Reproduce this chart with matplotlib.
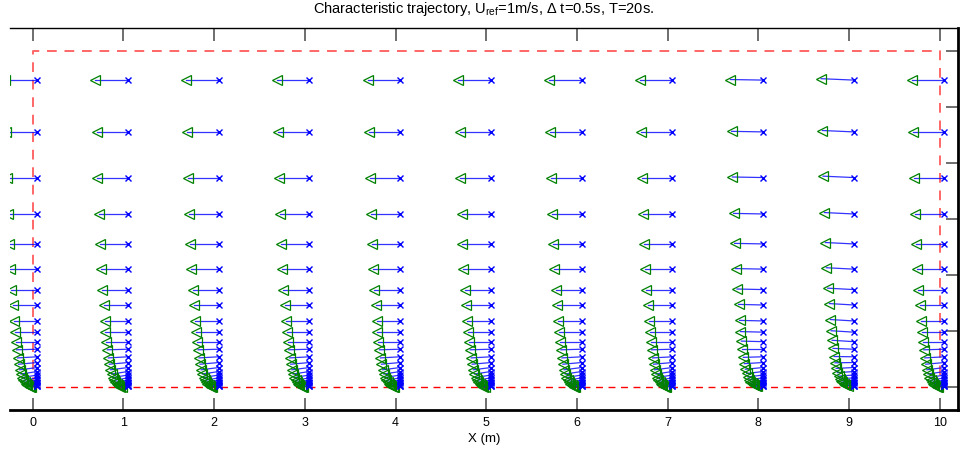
import matplotlib
matplotlib.use("Agg")
import matplotlib.pyplot as plt
import numpy as np

plt.rcParams['font.family'] = ['Liberation Sans', 'DejaVu Sans']
plt.rcParams['mathtext.fontset'] = 'custom'
plt.rcParams['mathtext.rm'] = 'Liberation Sans'
plt.rcParams['mathtext.it'] = 'Liberation Sans:italic'

# ---- data ----
x_start = [0.05, 1.05, 2.05, 3.05, 4.05, 5.05, 6.05, 7.05, 8.05, 9.05, 10.05]
z_rows = [1.096, 0.911, 0.748, 0.618, 0.511, 0.421, 0.348, 0.293, 0.236, 0.196,
          0.162, 0.135, 0.108, 0.0875, 0.0696, 0.0554, 0.0429, 0.0329, 0.025,
          0.0186, 0.0132, 0.0089, 0.0054, 0.0029]
dx_rows = [-0.359, -0.345, -0.337, -0.323, -0.312, -0.301, -0.286, -0.268, -0.257,
           -0.249, -0.238, -0.227, -0.216, -0.205, -0.193, -0.180, -0.166, -0.152,
           -0.138, -0.124, -0.110, -0.096, -0.082, -0.068]
dz_rows = [0.0, 0.0, 0.0, 0.0, 0.0, 0.0, 0.0, 0.0, 0.0, 0.0, 0.0, -0.002, -0.004,
           -0.006, -0.008, -0.009, -0.009, -0.009, -0.008, -0.007, -0.006, -0.005,
           -0.004, -0.0025]
dz_cols = [0.0, 0.0, 0.0, 0.0, 0.0, 0.0, 0.0, 0.0, 0.002, 0.005, 0.0]
domain_x = [0, 10]
domain_z = [0, 1.2]
xticks = [0, 1, 2, 3, 4, 5, 6, 7, 8, 9, 10]
zticks = [0, 0.2, 0.4, 0.6, 0.8, 1.0, 1.2]

title = 'Characteristic trajectory, U$_{\\mathrm{ref}}$=1m/s, $\\Delta$ t=0.5s, T=20s.'

fig = plt.figure(figsize=(9.77, 4.55), dpi=100)
ax = fig.add_axes([10/977, 1-410/455, 948/977, 382/455])

blue = (0, 0, 1)
green = (0, 0.5, 0)

for i, xs in enumerate(x_start):
    for k, z in enumerate(z_rows):
        xe = xs + dx_rows[k]
        ze = z + dz_rows[k] + dz_cols[i]
        ax.plot([xs, xe], [z, ze], color=blue, lw=0.9, alpha=0.8, zorder=2)
    xe_all = [xs + d for d in dx_rows]
    ze_all = [z + dz + dz_cols[i] for z, dz in zip(z_rows, dz_rows)]
    ax.plot(xe_all, ze_all, linestyle='none', marker='<', markersize=7,
            markerfacecolor='none', markeredgecolor=green, markeredgewidth=0.9, zorder=3)
    ax.plot([xs]*len(z_rows), z_rows, linestyle='none', marker='x', markersize=4.5,
            color=blue, markeredgewidth=1.0, zorder=4)

# domain rectangle
ax.plot([domain_x[0], domain_x[0], domain_x[1], domain_x[1]],
        [domain_z[0], domain_z[1], domain_z[1], domain_z[0]],
        color=(1, 0.4, 0.4), lw=1.4, dashes=(5, 4), zorder=1)
ax.plot(domain_x, [domain_z[0], domain_z[0]], color='red', lw=1.0, dashes=(5, 4), zorder=1)

ax.set_xlim(-0.25, 10.20)
ax.set_ylim(-0.082, 1.282)
ax.set_xticks(xticks)
ax.set_xticklabels([str(t) for t in xticks])
ax.set_yticks(zticks)
ax.tick_params(axis='x', which='both', direction='in', length=9, width=1.2,
               color='#555555', top=True, bottom=True, labelsize=9, pad=5)
ax.tick_params(axis='y', which='both', direction='in', length=9, width=1.2,
               color='#555555', left=False, right=True, labelleft=False,
               labelright=False)
ax.spines['left'].set_visible(False)
ax.spines['bottom'].set_linewidth(2.0)
ax.spines['right'].set_linewidth(2.0)
ax.spines['top'].set_linewidth(1.0)
ax.set_xlabel('X (m)', fontsize=9.5, labelpad=3)
ax.set_title(title, fontsize=10.5, pad=11)

fig.savefig('out.png', dpi=100)
